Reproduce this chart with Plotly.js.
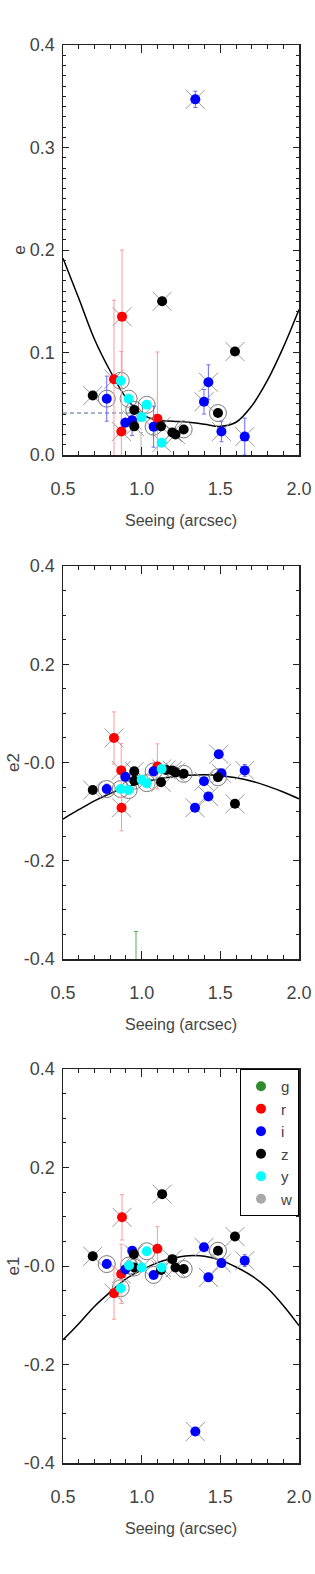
<!DOCTYPE html>
<html>
<head>
<meta charset="utf-8">
<script src="https://cdn.plot.ly/plotly-3.0.1.min.js"></script>
<style>html,body{margin:0;padding:0;background:#fff}#chart{width:315px;height:1574px}</style>
</head>
<body>
<div id="chart"></div>
<script>
// ---- data ----
const bandNames = ['g','r','i','z','y','w'];
const bandColors = ['#2e8b2e','#ff0000','#0000ff','#000000','#00ffff','#a8a8a8'];
const bandErrColors = ['#55b055','#ff9a9a','#6a6aff','#9a9a9a','#66dddd','#b8b8b8'];

// panel 1: e
const eX    = [0.689,0.778,0.824,0.867,0.875,0.871,0.896,0.917,0.953,0.939,0.953,1.000,1.032,1.076,1.100,1.123,1.127,1.130,1.195,1.215,1.267,1.396,1.424,1.485,1.507,1.593,1.655,1.341,0.996];
const eBand = ['z','i','r','y','r','r','i','y','z','i','z','y','y','i','r','z','y','z','z','z','z','i','i','z','i','z','i','i','w'];
const eVal  = [0.058,0.055,0.074,0.0725,0.135,0.023,0.0315,0.055,0.044,0.034,0.028,0.037,0.049,0.0277,0.0355,0.028,0.012,0.150,0.022,0.020,0.025,0.052,0.071,0.041,0.023,0.101,0.018,0.347,-0.012];
const eErr  = [0,0.022,0.077,0,0.065,0.078,0,0,0,0.015,0,0,0,0.02,0.065,0,0,0,0,0,0,0.012,0.017,0,0.01,0,0.018,0.008,0.034];
const eMark = ['x','o','x','o','x','x','','o','o','x','x','x','o','o','','x','x','x','x','x','o','x','x','o','x','x','x','x',''];

// panel 2: e2
const e2X    = [0.689,0.778,0.824,0.870,0.872,0.867,0.896,0.917,0.953,0.953,1.000,1.032,1.076,1.100,1.127,1.123,1.155,1.195,1.215,1.267,1.339,1.396,1.424,1.485,1.490,1.507,1.593,1.655,0.964];
const e2Band = ['z','i','r','r','r','y','i','y','z','z','y','y','i','r','y','z','z','z','z','z','i','i','i','z','i','i','z','i','g'];
const e2Val  = [-0.056,-0.054,0.050,-0.016,-0.092,-0.054,-0.029,-0.056,-0.018,-0.037,-0.035,-0.042,-0.018,-0.008,-0.013,-0.040,-0.015,-0.016,-0.020,-0.023,-0.092,-0.038,-0.069,-0.030,0.017,-0.022,-0.084,-0.016,-0.47];
const e2Err  = [0,0.01,0.053,0.055,0.047,0,0,0,0,0,0,0,0,0.046,0,0,0,0,0,0,0,0,0,0,0,0,0,0.012,0.126];
const e2Mark = ['x','o','x','x','x','o','','o','x','o','x','o','o','','x','x','x','x','x','o','x','x','x','o','x','x','x','x',''];

// panel 3: e1
const e1X    = [0.689,0.778,0.824,0.870,0.875,0.867,0.896,0.920,0.940,0.950,0.953,1.000,1.032,1.076,1.100,1.127,1.123,1.130,1.195,1.215,1.267,1.341,1.396,1.424,1.485,1.507,1.593,1.655];
const e1Band = ['z','i','r','r','r','y','i','y','i','z','z','y','y','i','r','y','z','z','z','z','z','i','i','i','z','i','z','i'];
const e1Val  = [0.020,0.004,-0.055,-0.016,0.099,-0.045,-0.007,0.001,0.031,0.024,-0.003,-0.003,0.030,-0.018,0.035,-0.003,-0.008,0.146,0.014,-0.003,-0.006,-0.336,0.038,-0.023,0.031,0.006,0.060,0.011];
const e1Err  = [0,0.008,0.053,0.06,0.046,0,0,0,0,0,0,0,0,0,0.045,0,0,0,0,0,0,0,0,0,0,0,0,0.012];
const e1Mark = ['x','o','x','x','x','o','','o','','x','o','x','o','o','','x','x','x','x','x','o','x','x','x','o','x','x','x'];

// fitted curves
const fitX  = [0.5,0.6,0.7,0.8,0.9,1.0,1.1,1.2,1.3,1.4,1.5,1.6,1.7,1.8,1.9,2.0];
const eFit  = [0.192,0.153,0.113,0.082,0.056,0.040,0.034,0.033,0.032,0.030,0.028,0.032,0.048,0.073,0.105,0.142];
const e2Fit = [-0.115,-0.096,-0.078,-0.063,-0.050,-0.041,-0.034,-0.029,-0.026,-0.025,-0.027,-0.031,-0.038,-0.048,-0.060,-0.074];
const e1Fit = [-0.150,-0.117,-0.082,-0.053,-0.026,-0.008,0.007,0.016,0.021,0.020,0.012,-0.002,-0.020,-0.045,-0.080,-0.121];

// dashed reference level in e panel
const eLevelX = [0.5, 0.946];
const eLevelY = [0.041, 0.041];

// tick labels
const xTickVals = [0.5,1.0,1.5,2.0];
const xTickText = ['0.5','1.0','1.5','2.0'];
const eTickVals = [0.0,0.1,0.2,0.3,0.4];
const eTickText = ['0.0','0.1','0.2','0.3','0.4'];
const cTickVals = [-0.4,-0.2,0.0,0.2,0.4];
const cTickText = ['-0.4','-0.2','-0.0','0.2','0.4'];

// ---- build ----
const FONT = 'Liberation Sans, Arial, sans-serif';
const traces = [];
const legendDone = {};
function pick(arr, idx){ return idx.map(i => arr[i]); }

function buildPanel(xs, bands, vals, errs, marks, xa, ya){
  const all = xs.map((_, i) => i);
  const circ = all.filter(i => marks[i] === 'o');
  const crs  = all.filter(i => marks[i] === 'x');
  traces.push({x: pick(xs, circ), y: pick(vals, circ), xaxis: xa, yaxis: ya, mode: 'markers', type: 'scatter',
    showlegend: false, hoverinfo: 'skip',
    marker: {symbol: 'circle-open', size: 17, color: '#7a7a7a', line: {width: 1, color: '#7a7a7a'}}});
  traces.push({x: pick(xs, crs), y: pick(vals, crs), xaxis: xa, yaxis: ya, mode: 'markers', type: 'scatter',
    showlegend: false, hoverinfo: 'skip',
    marker: {symbol: 'x-thin-open', size: 19, color: '#9a9a9a', line: {width: 1, color: '#9a9a9a'}}});
  bandNames.forEach((b, k) => {
    const idx = all.filter(i => bands[i] === b);
    if (!idx.length) return;
    const show = !legendDone[b];
    legendDone[b] = true;
    traces.push({x: pick(xs, idx), y: pick(vals, idx), xaxis: xa, yaxis: ya, mode: 'markers', type: 'scatter',
      name: b, legendgroup: b, showlegend: show, legendrank: k + 1,
      marker: {symbol: 'circle', size: 10, color: bandColors[k]},
      error_y: {type: 'data', array: pick(errs, idx), visible: true, thickness: 1, width: 2, color: bandErrColors[k]}});
  });
}

traces.push({x: fitX, y: eFit, xaxis: 'x', yaxis: 'y', mode: 'lines', line: {color: '#000', width: 1.5, shape: 'spline'}, showlegend: false});
traces.push({x: eLevelX, y: eLevelY, xaxis: 'x', yaxis: 'y', mode: 'lines', line: {color: '#4a6a90', width: 1, dash: '4px,3px'}, showlegend: false});
traces.push({x: fitX, y: e2Fit, xaxis: 'x2', yaxis: 'y2', mode: 'lines', line: {color: '#000', width: 1.5, shape: 'spline'}, showlegend: false});
traces.push({x: fitX, y: e1Fit, xaxis: 'x3', yaxis: 'y3', mode: 'lines', line: {color: '#000', width: 1.5, shape: 'spline'}, showlegend: false});

// bottom panel first so its bands own the legend entries
buildPanel(e1X, e1Band, e1Val, e1Err, e1Mark, 'x3', 'y3');
buildPanel(e2X, e2Band, e2Val, e2Err, e2Mark, 'x2', 'y2');
buildPanel(eX, eBand, eVal, eErr, eMark, 'x', 'y');

function xAxis(anchor){
  return {anchor: anchor, domain: [0, 1], range: [0.5, 2.0], tickmode: 'array', tickvals: xTickVals, ticktext: xTickText,
    ticks: 'inside', ticklen: 8, tickwidth: 1, tickcolor: '#222', mirror: 'allticks', showline: true, linecolor: '#222', linewidth: 1.5,
    minor: {tickmode: 'linear', tick0: 0.5, dtick: 0.1, ticks: 'inside', ticklen: 4, tickcolor: '#222', showgrid: false},
    showgrid: false, zeroline: false, ticklabelstandoff: 17,
    tickfont: {family: FONT, size: 18, color: '#444'},
    title: {text: 'Seeing (arcsec)', standoff: 16, font: {family: FONT, size: 16, color: '#444'}}};
}
function yAxis(anchor, domain, range, tv, tt, minorDt, title){
  return {anchor: anchor, domain: domain, range: range, tickmode: 'array', tickvals: tv, ticktext: tt,
    ticks: 'inside', ticklen: 6, tickwidth: 1, tickcolor: '#222', mirror: 'allticks', showline: true, linecolor: '#222', linewidth: 1.5,
    minor: {tickmode: 'linear', tick0: range[0], dtick: minorDt, ticks: 'inside', ticklen: 3, tickcolor: '#222', showgrid: false},
    showgrid: false, zeroline: false, ticklabelstandoff: 3,
    tickfont: {family: FONT, size: 18, color: '#444'},
    title: {text: title, standoff: 0, font: {family: FONT, size: 17, color: '#444'}}};
}

const layout = {
  width: 315, height: 1574,
  margin: {l: 63, r: 16, t: 0, b: 0},
  paper_bgcolor: '#fff', plot_bgcolor: '#fff',
  font: {family: FONT, color: '#444'},
  xaxis: xAxis('y'),
  yaxis: yAxis('x', [0.7109, 0.9714], [0, 0.4], eTickVals, eTickText, 0.01, 'e'),
  xaxis2: xAxis('y2'),
  yaxis2: yAxis('x2', [0.3907, 0.6404], [-0.4, 0.4], cTickVals, cTickText, 0.05, 'e2'),
  xaxis3: xAxis('y3'),
  yaxis3: yAxis('x3', [0.0705, 0.3208], [-0.4, 0.4], cTickVals, cTickText, 0.05, 'e1'),
  legend: {x: 1, xanchor: 'right', y: 0.3208, yanchor: 'top', bgcolor: '#fff', bordercolor: '#000', borderwidth: 1,
    font: {family: FONT, size: 15, color: '#444'}, itemwidth: 30, tracegroupgap: 0, traceorder: 'normal'},
  showlegend: true
};

Plotly.newPlot('chart', traces, layout, {staticPlot: true, displayModeBar: false});
</script>
</body>
</html>
